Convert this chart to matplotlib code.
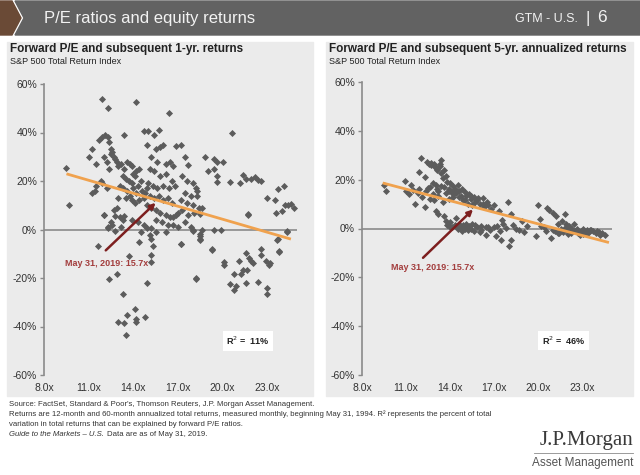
import matplotlib
matplotlib.use("Agg")
import matplotlib.pyplot as plt
from matplotlib.patches import Polygon, Rectangle
from matplotlib.lines import Line2D

plt.rcParams['font.family'] = ['Liberation Sans', 'DejaVu Sans']

# ---- data ----
pe_ticks = [8, 11, 14, 17, 20, 23]
pe_labels = ['8.0x', '11.0x', '14.0x', '17.0x', '20.0x', '23.0x']
ret_ticks = [-60, -40, -20, 0, 20, 40, 60]
ret_labels = ['-60%', '-40%', '-20%', '0%', '20%', '40%', '60%']

# forward P/E vs subsequent 1-yr return (%)
one_yr_pe = [
    11.9, 12.3, 14.2, 16.4, 20.6, 9.5, 9.7,
    11.0, 11.2, 11.5, 11.7, 11.9, 12.1, 12.3, 12.4, 12.5, 12.5, 12.6, 12.7, 12.8, 12.9,
    12.4, 12.2, 12.0, 11.8, 11.4, 11.2, 11.5, 11.9, 12.2, 12.0, 12.3, 12.7, 12.9, 13.0,
    13.1, 13.3, 12.5, 12.8,
    13.4, 13.0, 13.2, 13.4, 13.6, 13.8, 13.9, 13.3, 13.5, 13.7, 13.9, 14.1, 14.2, 14.4,
    14.0, 13.1, 13.3, 13.6, 14.0, 14.3, 14.5, 14.6, 14.8, 14.9, 14.2, 13.8, 13.5, 13.9,
    14.1, 14.4, 14.7, 14.9,
    14.7, 15.0, 15.7, 15.4, 14.9, 15.5, 15.8, 16.0, 15.2, 15.6, 16.2, 16.5, 16.7, 15.1,
    15.4, 15.8, 16.2, 16.6, 15.0, 15.3, 15.6, 16.0, 16.4, 16.8, 15.1, 15.4, 15.7, 16.0,
    16.3, 16.6, 15.2, 15.5, 15.8, 16.2, 16.5, 16.9, 15.5, 15.9, 16.3, 16.7, 17.0, 15.2,
    17.2, 16.9, 17.5, 17.7, 17.3, 17.6, 18.0, 18.2, 18.3, 17.5, 17.9, 18.3, 17.2, 17.6,
    18.0, 18.4, 17.3, 17.7, 18.1, 18.5, 17.5, 17.9, 18.6, 18.0,
    18.8, 19.0, 19.4, 19.6, 19.4, 19.6, 19.6, 20.0, 20.5, 19.9, 18.6,
    21.2, 21.4, 21.6, 21.9, 22.2, 22.4, 22.6, 21.7, 23.0, 23.5, 23.7, 24.0, 24.2, 24.4,
    24.6, 24.1, 24.8,
    12.0, 12.8, 13.4, 12.6, 13.2, 12.3, 13.9, 14.3, 14.7, 14.5, 14.9,
    16.7, 17.0, 18.0, 19.4, 17.2, 18.5, 18.5, 19.3, 18.2, 21.7, 23.6, 24.35, 23.7, 23.8,
    11.6, 12.4, 12.9, 13.3, 13.7, 13.0, 13.4, 13.6, 14.1, 14.15, 14.2, 13.5, 14.8, 14.4,
    14.9, 15.1, 15.2, 15.3, 15.2, 15.2, 15.5, 16.2, 17.2, 18.2, 18.45, 18.45, 19.3,
    20.1, 20.1, 20.5, 20.75, 20.9, 20.8, 21.1, 21.25, 21.35, 21.6, 21.75, 21.9, 22.05,
    21.6, 21.65, 22.4, 22.6, 22.55, 22.9, 23.1, 23.2, 23.0, 23.0, 23.65, 23.8, 24.3,
]
one_yr_ret = [
    54, 50, 52.5, 48, 40, 25.5, 10,
    30, 33, 27, 37, 38, 39, 38, 36, 33, 31, 32, 30, 29, 28,
    25, 28, 30, 20, 16, 15, 18, 19, 17, 6, 1, 8, 9, 13,
    5, 4, 3, -0.5,
    39, 26, 27, 25, 28, 27, 26, 22, 21, 20, 19, 22, 24, 25,
    23, 18, 17, 16, 17, 18, 20, 16, 15, 17, 15, 14, 13, 12,
    11, 12, 13, 10,
    40.5, 40.5, 41, 39, 35, 33, 34, 35, 30, 28, 27, 28, 26, 25,
    24, 22, 23, 20, 19, 18, 17, 18, 17, 18, 14, 13, 14, 12,
    13, 11, 9, 8, 7, 6, 5, 6, 4, 3, 2, 2, 1, 0.5,
    35, 34.5, 30, 26.5, 22, 20, 19, 17, 16, 15, 14, 14, 12, 11,
    10, 9, 8, 6, 7, 6.5, 3, 1, 9, -0.5,
    30, 24, 29, 28, 25, 22, 19.5, 28, 19.5, 0, 0,
    19, 22.5, 21, 21, 21.5, 20.5, 20, 6, 13, 12, 16.5, 7.5, 10, 10,
    10.5, 18, 9,
    6, 5.5, 5.5, 2, 1, 0.5, 4, 3, 2, -1, 0.5,
    5, 7, 0, 0, -5.8, -2, -4, -8, -20, 6.5, 7, -0.7, -4, -8.7,
    -7, -20.3, -18.2, -26.4, -11, -38, -38.6, -35.2, -32.8, -37, -38, -43.4, -36.2, -5.3,
    -22, -2.3, -4.1, -6.7, -10.7, -13.5, -1.2, -1.2, -6, -20.3, -2.6, -4.2, -8.3,
    -13.2, -14.8, -22.6, -24.8, -23.3, -18.2, -12.8, -18.2, -16.9, -9.8, -11.7, -12.8, -13.9,
    -22, -16.5, -21.6, -8, -10.7, -13, -14.5, -13.7, -24.3, -26.4, -4.3, -9.1, -1.2,
]

# forward P/E vs subsequent 5-yr annualized return (%)
five_yr_pe = [
    9.5, 9.6, 10.9, 11.0, 11.2, 11.35, 11.5, 11.6, 11.8, 11.9, 11.9, 12.0, 12.1, 12.25,
    12.3, 12.35, 12.4, 12.5, 12.55, 12.6, 12.7, 12.8, 12.9, 12.9, 13.0, 13.0, 13.1, 13.1,
    13.2, 13.2, 13.3, 13.35, 13.4, 13.4, 13.5, 13.5, 13.6, 13.6, 13.7, 13.7, 13.7, 13.8,
    13.8, 13.9, 13.9, 14.0, 14.0, 14.1, 14.1, 14.2, 14.2, 14.3, 14.3, 14.4, 14.4, 14.5,
    14.5, 14.6, 14.6, 14.7, 14.7, 14.8, 14.8, 14.9, 14.9, 15.0, 15.0, 15.1, 15.1, 15.2,
    15.2, 15.3, 15.3, 15.4, 15.4, 15.5, 15.5, 15.6, 15.6, 15.7, 15.8, 15.9, 16.0, 16.0,
    16.1, 16.2, 16.3, 16.4, 16.4, 16.5, 16.7, 16.8, 17.0, 17.1, 17.2, 17.3, 17.45, 17.5,
    17.6, 17.9, 18.0, 18.1, 18.1, 18.3, 18.5, 18.7, 18.9, 19.0, 19.2, 19.8, 19.95, 20.1,
    20.2, 20.5, 20.6, 20.7, 20.85, 21.0, 21.1, 21.2, 21.3, 21.3, 21.5, 21.6, 21.7, 21.8,
    21.9, 22.0, 22.1, 22.2, 22.3, 22.4, 22.5, 22.7, 22.9, 23.0, 23.2, 23.4, 23.5, 23.7,
    23.9, 24.1, 24.3, 24.5,
    12.7, 12.9, 13.1, 13.3, 12.6, 12.8, 13.0, 13.2, 13.6, 13.9, 14.2, 14.6, 15.0, 15.4,
    15.8, 16.2, 16.6, 14.0, 14.4, 14.8, 15.2, 15.7, 16.1, 16.6, 17.0, 17.4, 17.8,
    21.4, 21.8, 22.2, 22.6, 23.0, 23.3, 23.6, 24.0, 24.2, 22.8, 22.0, 21.0, 20.4,
]
five_yr_ret = [
    17.7, 15.4, 19.5, 15.4, 14.3, 17.7, 15.9, 10.2, 14.5, 23.2, 16.3, 28.7, 13, 21.1,
    8.8, 15.4, 27.3, 16.5, 26.4, 12, 25.9, 14, 26.5, 11.5, 25, 7, 16, 24.4,
    6, 13.5, 26.6, 22.8, 28.0, 17.5, 11, 20.5, 24, 5, 21.5, 14.5, 3, 19,
    1.5, 16, 12, 18.5, 2.5, 15, 0.5, 17.5, 13, 1.5, 16, 14.5, 4.5, 18,
    0, 15.5, 2, 13.5, 0.5, 16, -1, 11.5, 1.5, 15, 0, 13.5, 2, 10,
    -0.5, 14, 1, 12, 0, 9.5, 2, 13, -1, 11, 0.5, 12.5, -1.6, 10,
    1, 12.5, 9, -2.6, 0.5, 11, -0.5, 8, 9.5, -3, 1, 7, -4.8, 3.5,
    2, 10.8, -7, -4.8, 6, 1.5, 0, -0.5, 3, -1.5, 1, -3, 9.5, 4,
    1, -1, 8.5, 7.5, -3.7, 6.5, -1, 5, 2, -2, 0, 3, -1.5, 6,
    2, -1, 1, -2, 0, 2, -1, -2, -1, 0, -1.5, -2, -0.5, -1,
    -2, -1.5, -2, -2.5,
    27, 25.5, 24, 25.8, 17, 18.5, 17.8, 15.2, 16.8, 15.5, 14.2, 12.8, 11.8, 13.2,
    11.5, 10.2, 9.5, 0.8, 1.2, 0.2, 0.8, 1.5, -0.8, 0.6, 0.8, -1.2, 0.3,
    -1.8, 0.4, -0.6, -0.3, -2.2, -0.8, -0.5, -1.2, -2.8, -2.6, -2.3, -0.6, 0.5,
]

# trend lines (end points)
one_yr_fit_x = [9.6, 24.5]
one_yr_fit_y = [22.8, -3.8]
five_yr_fit_x = [9.5, 24.7]
five_yr_fit_y = [18.5, -5.6]

# latest reading annotation: (arrow head x, y), (arrow tail x, y), text position
one_yr_note = [(15.5, 11.0), (12.15, -8.6), (12.2, -14.2)]
five_yr_note = [(15.55, 7.8), (12.15, -12.0), (12.8, -15.8)]
note_text = 'May 31, 2019: 15.7x'

W, H = 640, 475
fig = plt.figure(figsize=(6.4, 4.75), dpi=100)
fig.patch.set_facecolor('white')


def fx(px):
    return px / W


def fy(py):
    return 1 - py / H


# ---- header band ----
brown = Polygon([(fx(0), fy(1)), (fx(12), fy(1)), (fx(21), fy(18)), (fx(12), fy(35)), (fx(0), fy(35))],
                closed=True, transform=fig.transFigure, color='#6a4a36', zorder=0)
band = Polygon([(fx(15), fy(1)), (fx(640), fy(1)), (fx(640), fy(35)), (fx(15), fy(35)), (fx(24), fy(18))],
               closed=True, transform=fig.transFigure, color='#626262', zorder=0)
fig.add_artist(brown)
fig.add_artist(band)
fig.text(fx(44), fy(18), 'P/E ratios and equity returns', color='#f2f2f2', fontsize=12,
         va='center', ha='left')
fig.text(fx(578), fy(19), 'GTM - U.S.', color='#f2f2f2', fontsize=9, va='center', ha='right')
fig.text(fx(588), fy(18), '|', color='#f2f2f2', fontsize=12, va='center', ha='center')
fig.text(fx(597), fy(18), '6', color='#f2f2f2', fontsize=12.5, va='center', ha='left')

# ---- panel backgrounds ----
for x0, x1 in [(7, 313), (326, 633)]:
    fig.add_artist(Rectangle((fx(x0), fy(396)), fx(x1) - fx(x0), fy(42) - fy(396),
                             transform=fig.transFigure, color='#ebebeb', zorder=0))


def draw_panel(ax, pe, ret, fit_x, fit_y, note, r2, title, px_left):
    ax.set_facecolor('none')
    ax.scatter(pe, ret, marker='D', s=13, color='#5c5c5c', linewidths=0, zorder=3)
    ax.plot(fit_x, fit_y, color='#f0a24e', lw=2, zorder=4)
    ax.axhline(0, color='#8a8a8a', lw=1.2, zorder=2)
    ax.set_xlim(8, 25)
    ax.set_ylim(-60, 60)
    ax.set_xticks(pe_ticks)
    ax.set_xticklabels(pe_labels)
    ax.set_yticks(ret_ticks)
    ax.set_yticklabels(ret_labels)
    for s in ['top', 'right', 'bottom']:
        ax.spines[s].set_visible(False)
    ax.spines['left'].set_color('#8a8a8a')
    ax.spines['left'].set_linewidth(1.2)
    ax.tick_params(axis='x', length=0, labelsize=7.5, colors='#333333', pad=6)
    ax.tick_params(axis='y', length=3, width=1, color='#8a8a8a', labelsize=7.5,
                   labelcolor='#333333', pad=2)
    head, tail, txt = note
    ax.annotate('', xy=head, xytext=tail,
                arrowprops=dict(arrowstyle='-|>', color='#7d1f1f', lw=1.8,
                                mutation_scale=8, shrinkA=0, shrinkB=0), zorder=5)
    ax.text(txt[0], txt[1], note_text, color='#a33d3d', fontsize=6.5, fontweight='bold',
            ha='center', va='center', zorder=5)
    ax.text(21.7, -46, 'R$^2$ =  ' + r2, fontsize=6.5, fontweight='bold', color='#222222',
            ha='center', va='center', zorder=5,
            bbox=dict(facecolor='white', edgecolor='none', pad=2.5))
    fig.text(fx(px_left), fy(49), title, fontsize=8.5, fontweight='bold', color='#222222',
             va='center', ha='left')
    fig.text(fx(px_left), fy(62), 'S&P 500 Total Return Index', fontsize=6.5, color='#222222',
             va='center', ha='left')


ax1 = fig.add_axes([fx(44), fy(375), fx(297) - fx(44), fy(84) - fy(375)])
draw_panel(ax1, one_yr_pe, one_yr_ret, one_yr_fit_x, one_yr_fit_y, one_yr_note, '11%',
           'Forward P/E and subsequent 1-yr. returns', 10)

ax2 = fig.add_axes([fx(362), fy(375), fx(612) - fx(362), fy(82) - fy(375)])
draw_panel(ax2, five_yr_pe, five_yr_ret, five_yr_fit_x, five_yr_fit_y, five_yr_note, '46%',
           'Forward P/E and subsequent 5-yr. annualized returns', 329)

# ---- footnotes ----
foot = dict(fontsize=5.6, color='#333333', va='center', ha='left')
fig.text(fx(9), fy(404), "Source: FactSet, Standard & Poor's, Thomson Reuters, J.P. Morgan Asset Management.", **foot)
fig.text(fx(9), fy(414), "Returns are 12-month and 60-month annualized total returns, measured monthly, "
                         "beginning May 31, 1994. R\u00b2 represents the percent of total", **foot)
fig.text(fx(9), fy(424), "variation in total returns that can be explained by forward P/E ratios.", **foot)
guide = fig.text(fx(9), fy(434), "Guide to the Markets \u2013 U.S.", style='italic', **foot)
fig.canvas.draw()
gx = guide.get_window_extent().x1
fig.text(gx / (fig.dpi * 6.4) + fx(3), fy(434), "Data are as of May 31, 2019.", **foot)

# ---- logo ----
fig.text(fx(633), fy(441), 'J.P.Morgan', fontsize=15, color='#3a3a3a', ha='right', va='center',
         family=['Liberation Serif', 'DejaVu Serif'])
fig.add_artist(Line2D([fx(534), fx(633)], [fy(453), fy(453)], transform=fig.transFigure,
                      color='#8a8a8a', lw=0.6))
fig.text(fx(633), fy(463), 'Asset Management', fontsize=8.5, color='#555555', ha='right', va='center')

fig.savefig('out.png', dpi=100)
